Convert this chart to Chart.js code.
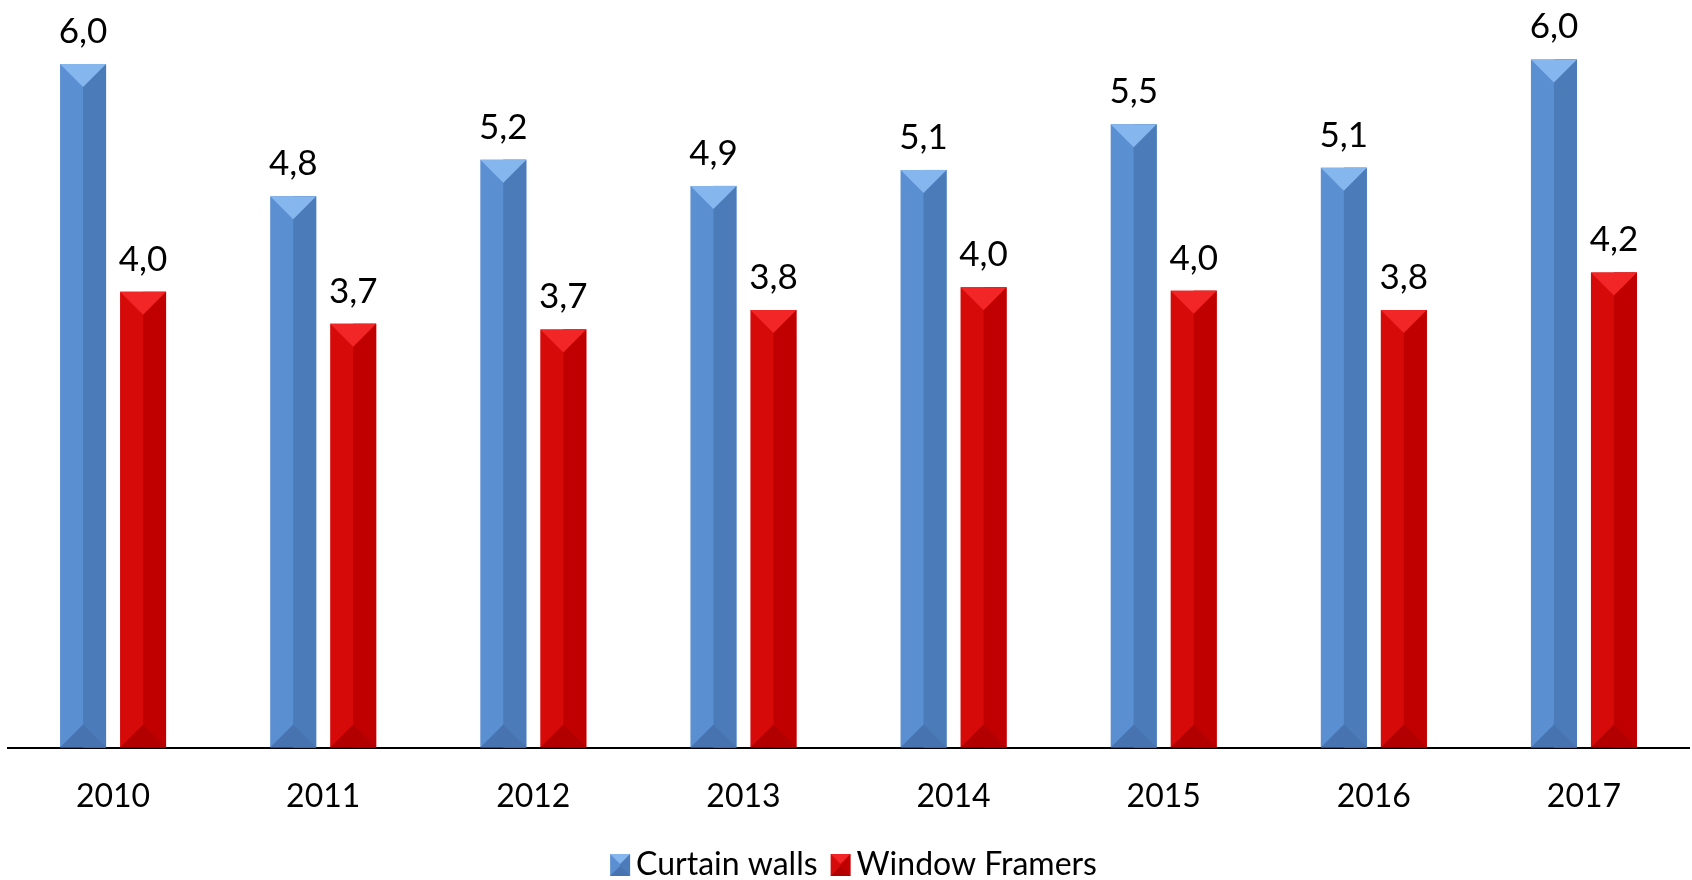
<!DOCTYPE html>
<html>
<head>
<meta charset="utf-8">
<title>Curtain walls / Window Framers</title>
<script src="https://cdn.jsdelivr.net/npm/chart.js@4.4.1/dist/chart.umd.min.js"></script>
<style>
  html, body { margin: 0; padding: 0; background: #fff; }
  #wrap { position: relative; width: 1692px; height: 880px; }
</style>
</head>
<body>
<div id="wrap"><canvas id="chart"></canvas></div>
<script>
// --- data ---
const years = ["2010", "2011", "2012", "2013", "2014", "2015", "2016", "2017"];
const curtainWalls  = [6.00, 4.84, 5.16, 4.93, 5.07, 5.47, 5.09, 6.04];
const windowFramers = [4.00, 3.72, 3.67, 3.84, 4.04, 4.01, 3.84, 4.17];
const seriesNames = ["Curtain walls", "Window Framers"];

// bevel palettes: top face, left face, right face, bottom face
const BLUE = { top: "#86b6ee", left: "#5a8fd2", right: "#4b7bb9", bottom: "#4774b0" };
const RED  = { top: "#f22626", left: "#d70a0a", right: "#c00000", bottom: "#b20000" };
const FONT = "Lato";

// small bevelled square for the legend, drawn to the right side of a wider canvas
function legendIcon(p) {
  const c = document.createElement("canvas");
  c.width = 42; c.height = 22;
  const g = c.getContext("2d");
  const x0 = 21, w = 20, h = 22;
  g.fillStyle = p.left;  g.fillRect(x0, 0, w / 2, h);
  g.fillStyle = p.right; g.fillRect(x0 + w / 2, 0, w / 2, h);
  g.fillStyle = p.top;
  g.beginPath(); g.moveTo(x0, 0); g.lineTo(x0 + w, 0); g.lineTo(x0 + w / 2, w / 2); g.closePath(); g.fill();
  g.fillStyle = p.bottom;
  g.beginPath(); g.moveTo(x0, h); g.lineTo(x0 + w, h); g.lineTo(x0 + w / 2, h - w / 2); g.closePath(); g.fill();
  return c;
}

// paints the bevel faces over each bar, from the bar element's own geometry
const bevelPlugin = {
  id: "bevel",
  afterDatasetsDraw(chart) {
    const ctx = chart.ctx;
    const pals = [BLUE, RED];
    chart.data.datasets.forEach((ds, di) => {
      const p = pals[di];
      chart.getDatasetMeta(di).data.forEach(bar => {
        const { x, y, base, width } = bar.getProps(["x", "y", "base", "width"], true);
        const l = x - width / 2, r = x + width / 2, d = width / 2;
        ctx.save();
        ctx.fillStyle = p.right;
        ctx.fillRect(x, y, width / 2, base - y);
        ctx.fillStyle = p.top;
        ctx.beginPath(); ctx.moveTo(l, y); ctx.lineTo(r, y); ctx.lineTo(x, y + d); ctx.closePath(); ctx.fill();
        ctx.fillStyle = p.bottom;
        ctx.beginPath(); ctx.moveTo(l, base); ctx.lineTo(r, base); ctx.lineTo(x, base - d); ctx.closePath(); ctx.fill();
        ctx.restore();
      });
    });
  }
};

// value labels above the bars, "6,0" style
const valueLabels = {
  id: "valueLabels",
  afterDatasetsDraw(chart) {
    const ctx = chart.ctx;
    ctx.save();
    ctx.font = "35px " + FONT;
    ctx.fillStyle = "#000";
    ctx.textAlign = "center";
    ctx.textBaseline = "alphabetic";
    chart.data.datasets.forEach((ds, di) => {
      chart.getDatasetMeta(di).data.forEach((bar, i) => {
        const txt = ds.data[i].toFixed(1).replace(".", ",");
        ctx.fillText(txt, bar.x, bar.y - 21);
      });
    });
    ctx.restore();
  }
};

const icons = [legendIcon(BLUE), legendIcon(RED)];

new Chart(document.getElementById("chart"), {
  type: "bar",
  data: {
    labels: years,
    datasets: [
      { label: seriesNames[0], data: curtainWalls,  backgroundColor: BLUE.left },
      { label: seriesNames[1], data: windowFramers, backgroundColor: RED.left }
    ]
  },
  options: {
    responsive: true,
    maintainAspectRatio: false,
    animation: false,
    categoryPercentage: 0.571,
    barPercentage: 0.767,
    layout: { padding: { top: 7, left: 8, right: 3, bottom: -11 } },
    scales: {
      x: {
        grid: { display: false, drawTicks: false },
        border: { display: true, color: "#000", width: 2 },
        ticks: { color: "#000", font: { family: FONT, size: 32 }, padding: 30 }
      },
      y: { display: false, min: 0, max: 6.5 }
    },
    plugins: {
      legend: {
        position: "bottom",
        labels: {
          color: "#000",
          font: { family: FONT, size: 32 },
          usePointStyle: true,
          boxWidth: 20,
          boxHeight: 22,
          padding: 3,
          generateLabels(chart) {
            const items = Chart.defaults.plugins.legend.labels.generateLabels(chart);
            items.forEach((it, i) => { it.pointStyle = icons[i]; });
            return items;
          }
        }
      },
      tooltip: { enabled: false }
    }
  },
  plugins: [bevelPlugin, valueLabels]
});
</script>
</body>
</html>
